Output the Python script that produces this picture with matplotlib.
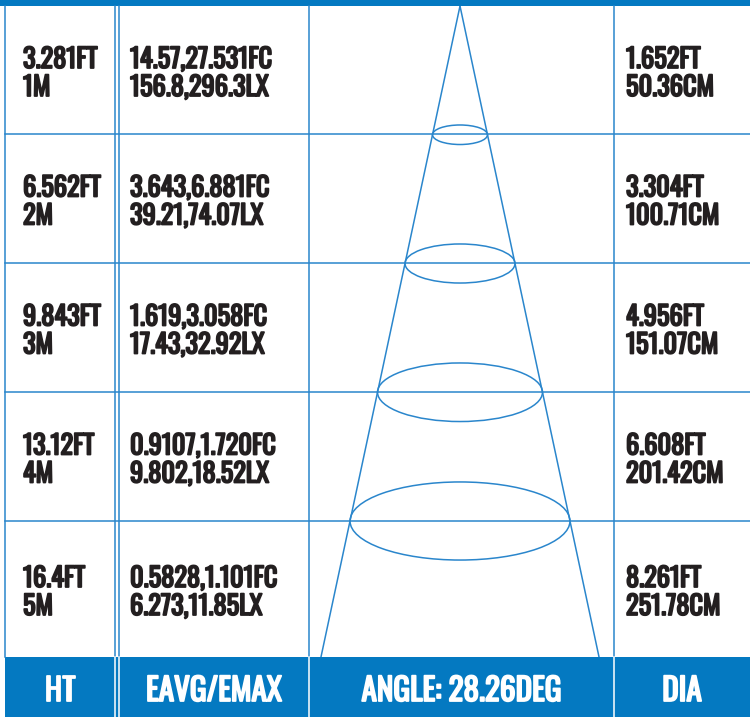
"""
Beam chart: height / illuminance / beam angle / spot diameter table
"""
import matplotlib
matplotlib.use("Agg")
import matplotlib.pyplot as plt
import matplotlib.patheffects as pe
from matplotlib.patches import Ellipse, Rectangle

# ---- data ----
heights_ft = ["3.281FT", "6.562FT", "9.843FT", "13.12FT", "16.4FT"]
heights_m = [1, 2, 3, 4, 5]
eavg_emax_fc = ["14.57,27.531FC", "3.643,6.881FC", "1.619,3.058FC", "0.9107,1.720FC", "0.5828,1.101FC"]
eavg_emax_lx = ["156.8,296.3LX", "39.21,74.07LX", "17.43,32.92LX", "9.802,18.52LX", "6.273,11.85LX"]
dia_ft = ["1.652FT", "3.304FT", "4.956FT", "6.608FT", "8.261FT"]
dia_cm = [50.36, 100.71, 151.07, 201.42, 251.78]
beam_angle = 28.26
headers = ["HT", "EAVG/EMAX", "ANGLE: %.2fDEG" % beam_angle, "DIA"]

BLUE = "#0479c1"
LINE = "#2a86cc"
INK = "#231f20"
FONT = ["Oswald", "Roboto Condensed", "DejaVu Sans"]

W, H = 750, 717
fig = plt.figure(figsize=(W / 100, H / 100), dpi=100)
ax = fig.add_axes([0, 0, 1, 1])
ax.set_xlim(0, W)
ax.set_ylim(H, 0)
ax.axis("off")

# table layout in pixels
top, foot = 6, 657
row_edges = [top, 134, 263, 392, 521, foot]
col_x = [5, 115, 119, 309, 614]

# top bar and footer
ax.add_patch(Rectangle((0, 0), W, top, color=BLUE, lw=0))
ax.add_patch(Rectangle((col_x[0], foot), W - col_x[0], H - foot, color=BLUE, lw=0))

# grid lines
for y in row_edges[1:-1]:
    ax.plot([col_x[0], W], [y, y], color=LINE, lw=1.1)
for x in col_x:
    ax.plot([x, x], [top, foot], color=LINE, lw=1.1)
for x in col_x[1:]:
    ax.plot([x, x], [foot, H], color="white", lw=1.1)

# cell texts (stroke thickens the variable-weight Oswald to look bold)
bold_ink = [pe.withStroke(linewidth=1.3, foreground=INK)]
txt = dict(family=FONT, weight="bold", fontsize=19, color=INK, va="baseline", ha="left",
           path_effects=bold_ink)
for i in range(5):
    c = (row_edges[i] + row_edges[i + 1]) / 2
    b1, b2 = c - 2, c + 26
    ax.text(23, b1, heights_ft[i], **txt)
    ax.text(23, b2, "%dM" % heights_m[i], **txt)
    ax.text(130, b1, eavg_emax_fc[i], **txt)
    ax.text(130, b2, eavg_emax_lx[i], **txt)
    ax.text(626, b1, dia_ft[i], **txt)
    ax.text(626, b2, "%.2fCM" % dia_cm[i], **txt)

# footer headers
centers = [(col_x[0] + col_x[1]) / 2, (col_x[2] + col_x[3]) / 2,
           (col_x[3] + col_x[4]) / 2, (col_x[4] + W) / 2]
for x, h in zip(centers, headers):
    ax.text(x, 701, h, family=FONT, weight="bold", fontsize=22.5,
            color="white", ha="center", va="baseline",
            path_effects=[pe.withStroke(linewidth=1.3, foreground="white")])

# ---- cone drawn in metres ----
px_per_m_x = 109.2
px_per_m_y = (row_edges[4] - top) / 4
apex_x = 460
cax = fig.add_axes([col_x[3] / W, 1 - foot / H, (col_x[4] - col_x[3]) / W, (foot - top) / H])
cax.set_xlim((col_x[3] - apex_x) / px_per_m_x, (col_x[4] - apex_x) / px_per_m_x)
depth = (foot - top) / px_per_m_y
cax.set_ylim(depth, 0)
cax.axis("off")

slope = dia_cm[-1] / 100 / 2 / heights_m[-1]
cax.plot([0, -slope * depth], [0, depth], color=LINE, lw=1.1)
cax.plot([0, slope * depth], [0, depth], color=LINE, lw=1.1)
for h, d in zip(heights_m[:-1], dia_cm[:-1]):
    w = d / 100
    eh = 0.355 * w * px_per_m_x / px_per_m_y
    cax.add_patch(Ellipse((0, h), w, eh, fill=False, ec=LINE, lw=1.1))

fig.savefig("out.png", dpi=100)
